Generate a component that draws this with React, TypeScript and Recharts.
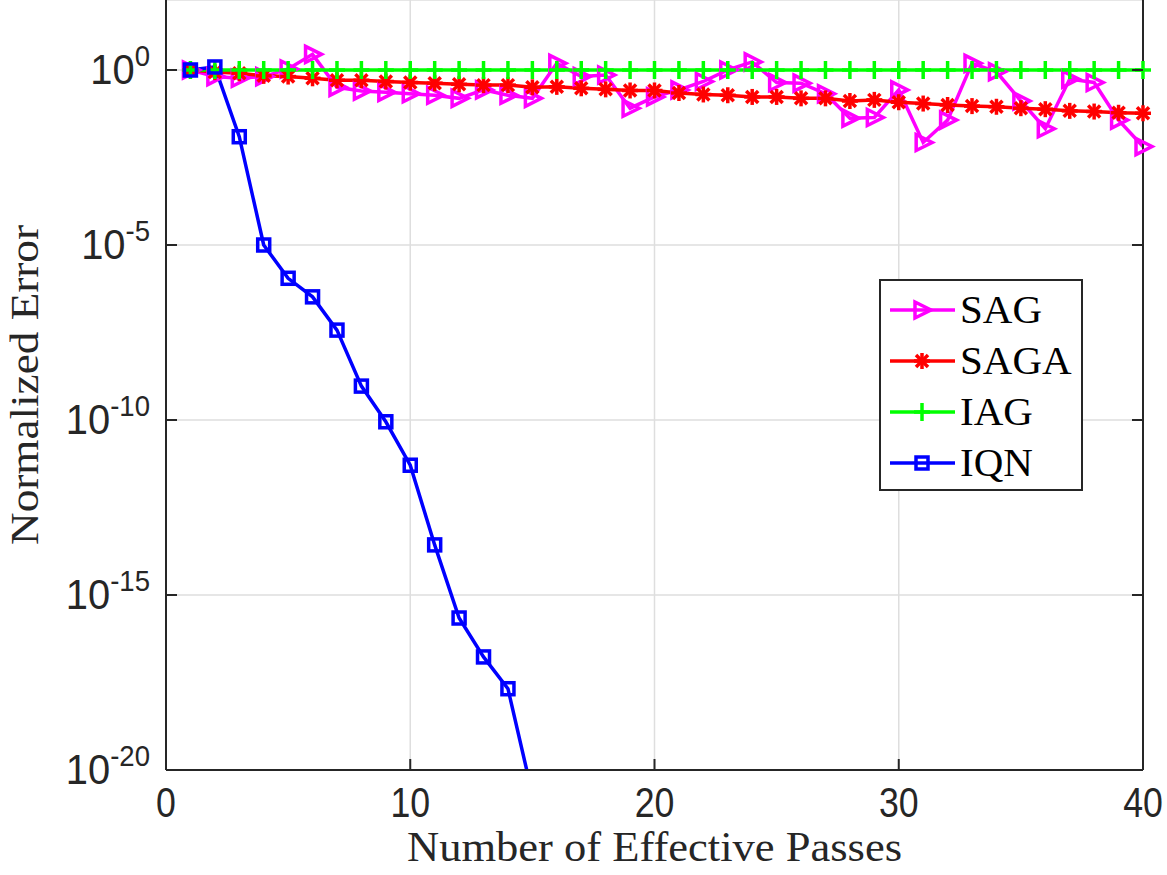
import React from "react";
import { LineChart, Line, XAxis, YAxis, CartesianGrid, Legend } from "recharts";

// effective passes (x) for the 40-pass runs
const passes = [
  1, 2, 3, 4, 5, 6, 7, 8, 9, 10, 11, 12, 13, 14, 15, 16, 17, 18, 19, 20,
  21, 22, 23, 24, 25, 26, 27, 28, 29, 30, 31, 32, 33, 34, 35, 36, 37, 38, 39, 40,
];

const sagError = [
  1, 0.65, 0.58, 0.65, 1.07, 2.8, 0.32, 0.25, 0.23, 0.21,
  0.19, 0.155, 0.27, 0.19, 0.155, 1.55, 0.65, 0.72, 0.081, 0.17,
  0.27, 0.47, 1.0, 1.7, 0.44, 0.42, 0.21, 0.042, 0.044, 0.27,
  0.0085, 0.037, 1.55, 0.89, 0.13, 0.021, 0.55, 0.44, 0.037, 0.0065,
];

const sagaError = [
  1, 0.87, 0.81, 0.68, 0.65, 0.58, 0.51, 0.51, 0.47, 0.44,
  0.42, 0.39, 0.37, 0.37, 0.32, 0.33, 0.3, 0.28, 0.26, 0.26,
  0.22, 0.2, 0.19, 0.17, 0.17, 0.155, 0.155, 0.13, 0.14, 0.12,
  0.11, 0.1, 0.093, 0.089, 0.081, 0.076, 0.068, 0.065, 0.06, 0.058,
];

const iagError = [
  1, 1, 1, 1, 1, 1, 1, 1, 1, 1,
  1, 1, 1, 1, 1, 1, 1, 1, 1, 1,
  1, 1, 1, 1, 1, 1, 1, 1, 1, 1,
  1, 1, 1, 1, 1, 1, 1, 1, 1, 1,
];

const iqnPasses = [1, 2, 3, 4, 5, 6, 7, 8, 9, 10, 11, 12, 13, 14, 15];
const iqnError = [
  1, 1.22, 0.0124, 1e-5, 1.12e-6, 3.3e-7, 3.7e-8, 9.3e-10, 8.9e-11, 5.1e-12,
  2.7e-14, 2.2e-16, 1.7e-17, 2.1e-18, 2e-21,
];

const xTicks = [0, 10, 20, 30, 40];
const yTicks = [1e-20, 1e-15, 1e-10, 1e-5, 1];
const yExponents = ["-20", "-15", "-10", "-5", "0"];

const AXIS = "#262626";
const SANS = "'Liberation Sans', Arial, sans-serif";
const SERIF = "'Liberation Serif', 'Times New Roman', serif";

const toPoints = (xs: number[], ys: number[]) => xs.map((x, i) => ({ x, y: ys[i] }));

type MarkerKind = "triangle" | "star" | "plus" | "square";

const Marker = ({ kind, cx, cy, color }: { kind: MarkerKind; cx: number; cy: number; color: string }) => {
  const common = { stroke: color, strokeWidth: 3.5, fill: "none" };
  if (kind === "triangle") {
    return <polygon points={`${cx - 7},${cy - 8} ${cx + 9},${cy} ${cx - 7},${cy + 8}`} {...common} />;
  }
  if (kind === "star") {
    return (
      <g {...common}>
        <line x1={cx - 8} y1={cy} x2={cx + 8} y2={cy} />
        <line x1={cx} y1={cy - 8} x2={cx} y2={cy + 8} />
        <line x1={cx - 6} y1={cy - 6} x2={cx + 6} y2={cy + 6} />
        <line x1={cx - 6} y1={cy + 6} x2={cx + 6} y2={cy - 6} />
      </g>
    );
  }
  if (kind === "plus") {
    return (
      <g {...common}>
        <line x1={cx - 8} y1={cy} x2={cx + 8} y2={cy} />
        <line x1={cx} y1={cy - 9} x2={cx} y2={cy + 9} />
      </g>
    );
  }
  return <rect x={cx - 6} y={cy - 6} width={12} height={12} {...common} />;
};

const series = [
  { name: "SAG", color: "#FF00FF", marker: "triangle" as MarkerKind, data: toPoints(passes, sagError), axis: "r" },
  { name: "SAGA", color: "#FF0000", marker: "star" as MarkerKind, data: toPoints(passes, sagaError), axis: "r" },
  { name: "IAG", color: "#00FF00", marker: "plus" as MarkerKind, data: toPoints(passes, iagError), axis: "r" },
  { name: "IQN", color: "#0000FF", marker: "square" as MarkerKind, data: toPoints(iqnPasses, iqnError), axis: 0 },
];

const XTick = (props: any) => {
  const { x, y, payload } = props;
  const axisY = y - 14;
  return (
    <g>
      <line x1={x} x2={x} y1={axisY} y2={axisY - 11} stroke={AXIS} strokeWidth={2} />
      <text x={x} y={y + 33} textAnchor="middle" fontFamily={SANS} fontSize={42} fill={AXIS}
        transform={`translate(${x},0) scale(0.85,1) translate(${-x},0)`}>
        {payload.value}
      </text>
    </g>
  );
};

const YTick = (props: any) => {
  const { x, y, payload } = props;
  const axisX = x + 16;
  const idx = yTicks.indexOf(payload.value);
  return (
    <g>
      <line x1={axisX} x2={axisX + 11} y1={y} y2={y} stroke={AXIS} strokeWidth={2} />
      <text x={x} y={y + 14} textAnchor="end" fontFamily={SANS} fontSize={42} fill={AXIS}
        transform={`translate(${x},0) scale(0.95,1) translate(${-x},0)`}>
        <tspan>10</tspan>
        <tspan dy={-18} fontSize={29}>{yExponents[idx]}</tspan>
      </text>
    </g>
  );
};

const RightTick = (props: any) => {
  const { x, y } = props;
  return <line x1={x} x2={x - 11} y1={y} y2={y} stroke={AXIS} strokeWidth={2} />;
};

const XLabel = (props: any) => {
  const { x, width, y, height } = props.viewBox;
  return (
    <text x={x + width / 2} y={y + height - 14} textAnchor="middle" fontFamily={SERIF} fontSize={42}
      fill={AXIS} textLength={495} lengthAdjust="spacingAndGlyphs">
      Number of Effective Passes
    </text>
  );
};

const YLabel = (props: any) => {
  const { y, height } = props.viewBox;
  const cx = 38;
  const cy = y + height / 2;
  return (
    <text x={cx} y={cy} textAnchor="middle" fontFamily={SERIF} fontSize={40} fill={AXIS}
      transform={`rotate(-90, ${cx}, ${cy})`} textLength={320} lengthAdjust="spacingAndGlyphs">
      Normalized Error
    </text>
  );
};

const renderLegend = () => (
  <div
    style={{
      width: 204,
      height: 212,
      border: `2px solid ${AXIS}`,
      background: "#fff",
      boxSizing: "border-box",
      paddingTop: 3,
    }}
  >
    {series.map((s) => (
      <div key={s.name} style={{ display: "flex", alignItems: "center", height: 51 }}>
        <svg width={79} height={30} style={{ display: "block" }}>
          <line x1={9} x2={74} y1={15} y2={15} stroke={s.color} strokeWidth={3.5} />
          <Marker kind={s.marker} cx={41} cy={15} color={s.color} />
        </svg>
        <span style={{ fontFamily: SERIF, fontSize: 41, lineHeight: 1, color: "#000" }}>{s.name}</span>
      </div>
    ))}
  </div>
);

export default function App() {
  return (
    <div style={{ position: "absolute", left: 0, top: 0, background: "#fff" }}>
      <LineChart width={1167} height={875} margin={{ top: 0, right: 0, bottom: 0, left: 0 }}>
        <CartesianGrid stroke="#dedede" strokeWidth={1.5} />
        <XAxis
          type="number"
          dataKey="x"
          domain={[0, 40]}
          ticks={xTicks}
          height={105}
          tickSize={0}
          tickMargin={14}
          tick={<XTick />}
          axisLine={{ stroke: AXIS, strokeWidth: 2 }}
          label={{ content: XLabel }}
        />
        <YAxis
          type="number"
          scale="log"
          domain={[1e-20, 100]}
          allowDataOverflow
          ticks={yTicks}
          width={166}
          tickSize={0}
          tickMargin={16}
          tick={<YTick />}
          axisLine={{ stroke: AXIS, strokeWidth: 2 }}
          label={{ content: YLabel }}
        />
        <YAxis
          yAxisId="r"
          orientation="right"
          type="number"
          scale="log"
          domain={[1e-20, 100]}
          ticks={yTicks}
          width={24}
          tickSize={0}
          tickMargin={0}
          tick={<RightTick />}
          axisLine={{ stroke: AXIS, strokeWidth: 2 }}
        />
        <Legend
          layout="vertical"
          align="center"
          verticalAlign="middle"
          content={renderLegend}
          wrapperStyle={{ left: 879, top: 279, width: 204, height: 212 }}
        />
        {series.map((s) => (
          <Line
            key={s.name}
            name={s.name}
            data={s.data}
            dataKey="y"
            yAxisId={s.axis}
            stroke={s.color}
            strokeWidth={3.5}
            isAnimationActive={false}
            dot={(p: any) => <Marker key={`${s.name}-${p.index}`} kind={s.marker} cx={p.cx} cy={p.cy} color={s.color} />}
            activeDot={false}
          />
        ))}
      </LineChart>
    </div>
  );
}
